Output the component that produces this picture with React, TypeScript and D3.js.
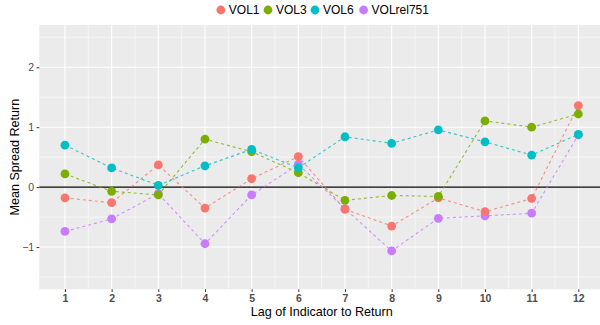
import { useEffect, useRef } from "react";
import * as d3 from "d3";

// lags on the x axis
const lags = [1, 2, 3, 4, 5, 6, 7, 8, 9, 10, 11, 12];

// mean spread return per series
const vol1 = [-0.18, -0.26, 0.37, -0.35, 0.14, 0.51, -0.37, -0.65, -0.18, -0.41, -0.19, 1.36];
const vol3 = [0.22, -0.07, -0.13, 0.8, 0.59, 0.24, -0.22, -0.14, -0.155, 1.105, 1.0, 1.22];
const vol6 = [0.7, 0.32, 0.03, 0.355, 0.63, 0.32, 0.84, 0.73, 0.955, 0.755, 0.535, 0.88];
const volRel751 = [-0.74, -0.53, -0.11, -0.945, -0.13, 0.38, -0.36, -1.065, -0.52, -0.48, -0.435, 0.87];

const seriesNames = ["VOL1", "VOL3", "VOL6", "VOLrel751"];
const seriesColors = ["#F8766D", "#7CAE00", "#00BFC4", "#C77CFF"];
const yTicks = [-1, 0, 1, 2];

export default function App() {
  const svgRef = useRef<SVGSVGElement | null>(null);

  useEffect(() => {
    if (!svgRef.current) return;
    const width = 600;
    const height = 325;
    const panel = { left: 39.3, top: 25, right: 604, bottom: 289.3 };

    const svg = d3.select(svgRef.current);
    svg.selectAll("*").remove();

    const x = d3.scaleLinear().domain([0.45, 12.55]).range([panel.left, panel.right]);
    const y = d3.scaleLinear().domain([-1.705, 2.705]).range([panel.bottom, panel.top]);

    const series = [
      { name: seriesNames[0], color: seriesColors[0], values: vol1 },
      { name: seriesNames[1], color: seriesColors[1], values: vol3 },
      { name: seriesNames[2], color: seriesColors[2], values: vol6 },
      { name: seriesNames[3], color: seriesColors[3], values: volRel751 },
    ];

    const font = "'Liberation Sans', Arial, sans-serif";

    // panel background
    svg.append("rect")
      .attr("x", panel.left)
      .attr("y", panel.top)
      .attr("width", panel.right - panel.left)
      .attr("height", panel.bottom - panel.top)
      .attr("fill", "#EBEBEB");

    const grid = svg.append("g");
    // minor grid
    const xMinor = lags.slice(0, -1).map(d => d + 0.5);
    const yMinor = [-1.5, -0.5, 0.5, 1.5, 2.5];
    grid.selectAll("line.xminor").data(xMinor).enter().append("line")
      .attr("x1", d => x(d)).attr("x2", d => x(d))
      .attr("y1", panel.top).attr("y2", panel.bottom)
      .attr("stroke", "#fff").attr("stroke-width", 0.55);
    grid.selectAll("line.yminor").data(yMinor).enter().append("line")
      .attr("y1", d => y(d)).attr("y2", d => y(d))
      .attr("x1", panel.left).attr("x2", panel.right)
      .attr("stroke", "#fff").attr("stroke-width", 0.55);
    // major grid
    grid.selectAll("line.xmajor").data(lags).enter().append("line")
      .attr("x1", d => x(d)).attr("x2", d => x(d))
      .attr("y1", panel.top).attr("y2", panel.bottom)
      .attr("stroke", "#fff").attr("stroke-width", 1.1);
    grid.selectAll("line.ymajor").data(yTicks).enter().append("line")
      .attr("y1", d => y(d)).attr("y2", d => y(d))
      .attr("x1", panel.left).attr("x2", panel.right)
      .attr("stroke", "#fff").attr("stroke-width", 1.1);

    // zero line
    svg.append("line")
      .attr("x1", panel.left).attr("x2", panel.right)
      .attr("y1", y(0)).attr("y2", y(0))
      .attr("stroke", "#000").attr("stroke-width", 1.1);

    // dashed lines
    const line = d3.line<number>()
      .x((_, i) => x(lags[i]))
      .y(d => y(d));

    svg.append("g")
      .selectAll("path")
      .data(series)
      .enter()
      .append("path")
      .attr("d", d => line(d.values))
      .attr("fill", "none")
      .attr("stroke", d => d.color)
      .attr("stroke-width", 1.1)
      .attr("stroke-opacity", 0.8)
      .attr("stroke-dasharray", "3,3");

    // points, in the stacking order seen in the picture
    const pointOrder = [3, 0, 1, 2];
    pointOrder.forEach(si => {
      const s = series[si];
      svg.append("g")
        .selectAll("circle")
        .data(s.values)
        .enter()
        .append("circle")
        .attr("cx", (_, i) => x(lags[i]))
        .attr("cy", d => y(d))
        .attr("r", 4.4)
        .attr("fill", s.color);
    });

    // y axis
    const yAxis = svg.append("g")
      .attr("transform", `translate(${panel.left},0)`)
      .call(d3.axisLeft(y).tickValues(yTicks).tickSize(2.7).tickPadding(2.5)
        .tickFormat(d => (d as number) < 0 ? `\u2212${Math.abs(d as number)}` : `${d}`));
    yAxis.select(".domain").remove();
    yAxis.selectAll(".tick line").attr("stroke", "#333").attr("stroke-width", 1);
    yAxis.selectAll(".tick text")
      .attr("fill", "#4D4D4D")
      .attr("font-size", "10.5px")
      .attr("font-family", font);

    // x axis
    const xAxis = svg.append("g")
      .attr("transform", `translate(0,${panel.bottom})`)
      .call(d3.axisBottom(x).tickValues(lags).tickSize(2.7).tickPadding(3)
        .tickFormat(d => `${d}`));
    xAxis.select(".domain").remove();
    xAxis.selectAll(".tick line").attr("stroke", "#333").attr("stroke-width", 1);
    xAxis.selectAll(".tick text")
      .attr("fill", "#4D4D4D")
      .attr("font-size", "10.5px")
      .attr("font-weight", "bold")
      .attr("font-family", font);

    // axis titles
    svg.append("text")
      .attr("x", 321.7)
      .attr("y", 316)
      .attr("text-anchor", "middle")
      .attr("font-family", font)
      .attr("font-size", "12.6px")
      .attr("fill", "#000")
      .text("Lag of Indicator to Return");

    svg.append("text")
      .attr("transform", `translate(18.5,${(panel.top + panel.bottom) / 2}) rotate(-90)`)
      .attr("text-anchor", "middle")
      .attr("font-family", font)
      .attr("font-size", "12.6px")
      .attr("fill", "#000")
      .text("Mean Spread Return");

    // legend
    const legendX = [220.8, 268, 315, 363.6];
    const legend = svg.append("g");
    series.forEach((s, i) => {
      legend.append("circle")
        .attr("cx", legendX[i])
        .attr("cy", 10)
        .attr("r", 4.4)
        .attr("fill", s.color);
      legend.append("text")
        .attr("x", legendX[i] + 8)
        .attr("y", 14.3)
        .attr("font-family", font)
        .attr("font-size", "12px")
        .attr("fill", "#000")
        .text(s.name);
    });

    svg.attr("width", width).attr("height", height);
  }, []);

  return (
    <svg
      ref={svgRef}
      width={600}
      height={325}
      style={{ position: "absolute", left: 0, top: 0, background: "#fff" }}
    />
  );
}
